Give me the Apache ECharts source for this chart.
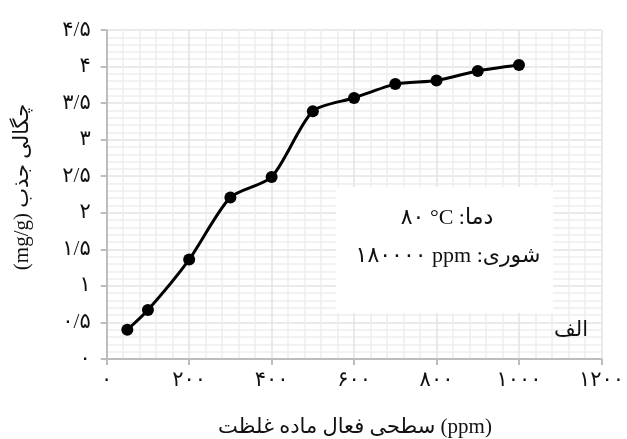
<!DOCTYPE html>
<html><head><meta charset="utf-8">
<script src="https://cdn.jsdelivr.net/npm/echarts@6/dist/echarts.min.js"></script>
<style>html,body{margin:0;padding:0;background:#fff}#c{width:627px;height:439px}</style>
</head><body><div id="c"></div>
<script>
const concentration = [50, 100, 200, 300, 400, 500, 600, 700, 800, 900, 1000];
const adsorption = [0.40, 0.67, 1.36, 2.21, 2.49, 3.39, 3.57, 3.76, 3.81, 3.94, 4.02];
const xTickValues = [0, 200, 400, 600, 800, 1000, 1200];
const xTickLabels = ['۰', '۲۰۰', '۴۰۰', '۶۰۰', '۸۰۰', '۱۰۰۰', '۱۲۰۰'];
const yTickValues = [0, 0.5, 1, 1.5, 2, 2.5, 3, 3.5, 4, 4.5];
const yTickLabels = ['۰', '۰/۵', '۱', '۱/۵', '۲', '۲/۵', '۳', '۳/۵', '۴', '۴/۵'];
const xTitle = 'سطحی فعال ماده غلظت (ppm)';
const yTitle = '(mg/g) چگالی جذب';
const noteLine1 = '۸۰ °C :دما';
const noteLine2 = '۱۸۰۰۰۰ ppm :شوری';
const panelLabel = 'الف';

const FONT = "'Liberation Serif', 'DejaVu Sans', serif";
const chart = echarts.init(document.getElementById('c'));
function lab(list, vals) {
  return v => { const i = vals.findIndex(t => Math.abs(t - v) < 1e-6); return i >= 0 ? list[i] : ''; };
}
chart.setOption({
  animation: false,
  grid: { left: 106.7, right: 25.3, top: 30, bottom: 80 },
  xAxis: {
    type: 'value', min: 0, max: 1200, interval: 200,
    axisLine: { show: true, lineStyle: { color: '#bdbdbd', width: 2 } },
    axisTick: { show: true, length: 6, lineStyle: { color: '#bdbdbd', width: 2 } },
    axisLabel: { margin: 11, fontSize: 21, color: '#111', fontFamily: FONT, formatter: lab(xTickLabels, xTickValues) },
    splitLine: { show: true, lineStyle: { color: '#e3e3e3', width: 1.5 } },
    minorTick: { show: true, splitNumber: 5, length: 0 },
    minorSplitLine: { show: true, lineStyle: { color: '#eeeeee', width: 1.5 } }
  },
  yAxis: {
    type: 'value', min: 0, max: 4.5, interval: 0.5,
    axisLine: { show: true, lineStyle: { color: '#bdbdbd', width: 2 } },
    axisTick: { show: true, length: 6, lineStyle: { color: '#bdbdbd', width: 2 } },
    axisLabel: { margin: 16, fontSize: 21, color: '#111', fontFamily: FONT, formatter: lab(yTickLabels, yTickValues) },
    splitLine: { show: true, lineStyle: { color: '#e3e3e3', width: 1.5 } },
    minorTick: { show: true, splitNumber: 5, length: 0 },
    minorSplitLine: { show: true, lineStyle: { color: '#eeeeee', width: 1.5 } }
  },
  series: [{
    type: 'line',
    data: concentration.map((x, i) => [x, adsorption[i]]),
    smooth: 0.25,
    symbol: 'circle', symbolSize: 12,
    lineStyle: { color: '#000', width: 3 },
    itemStyle: { color: '#000' },
    z: 5
  }],
  graphic: [
    { type: 'rect', shape: { x: 336, y: 187, width: 217, height: 126 }, style: { fill: '#fff' }, z: 3 },
    { type: 'text', x: 447, y: 218, z: 4, style: { text: noteLine1, font: "22px " + FONT, fill: '#111', align: 'center', verticalAlign: 'middle' } },
    { type: 'text', x: 448, y: 256, z: 4, style: { text: noteLine2, font: "22px " + FONT, fill: '#111', align: 'center', verticalAlign: 'middle' } },
    { type: 'text', x: 571, y: 330, z: 4, style: { text: panelLabel, font: "21px " + FONT, fill: '#111', align: 'center', verticalAlign: 'middle' } },
    { type: 'text', x: 355, y: 427, z: 4, style: { text: xTitle, font: "21px " + FONT, fill: '#111', align: 'center', verticalAlign: 'middle' } },
    { type: 'text', x: 22, y: 187, rotation: Math.PI / 2, z: 4, style: { text: yTitle, font: "21px " + FONT, fill: '#111', align: 'center', verticalAlign: 'middle' } }
  ]
});
</script></body></html>
